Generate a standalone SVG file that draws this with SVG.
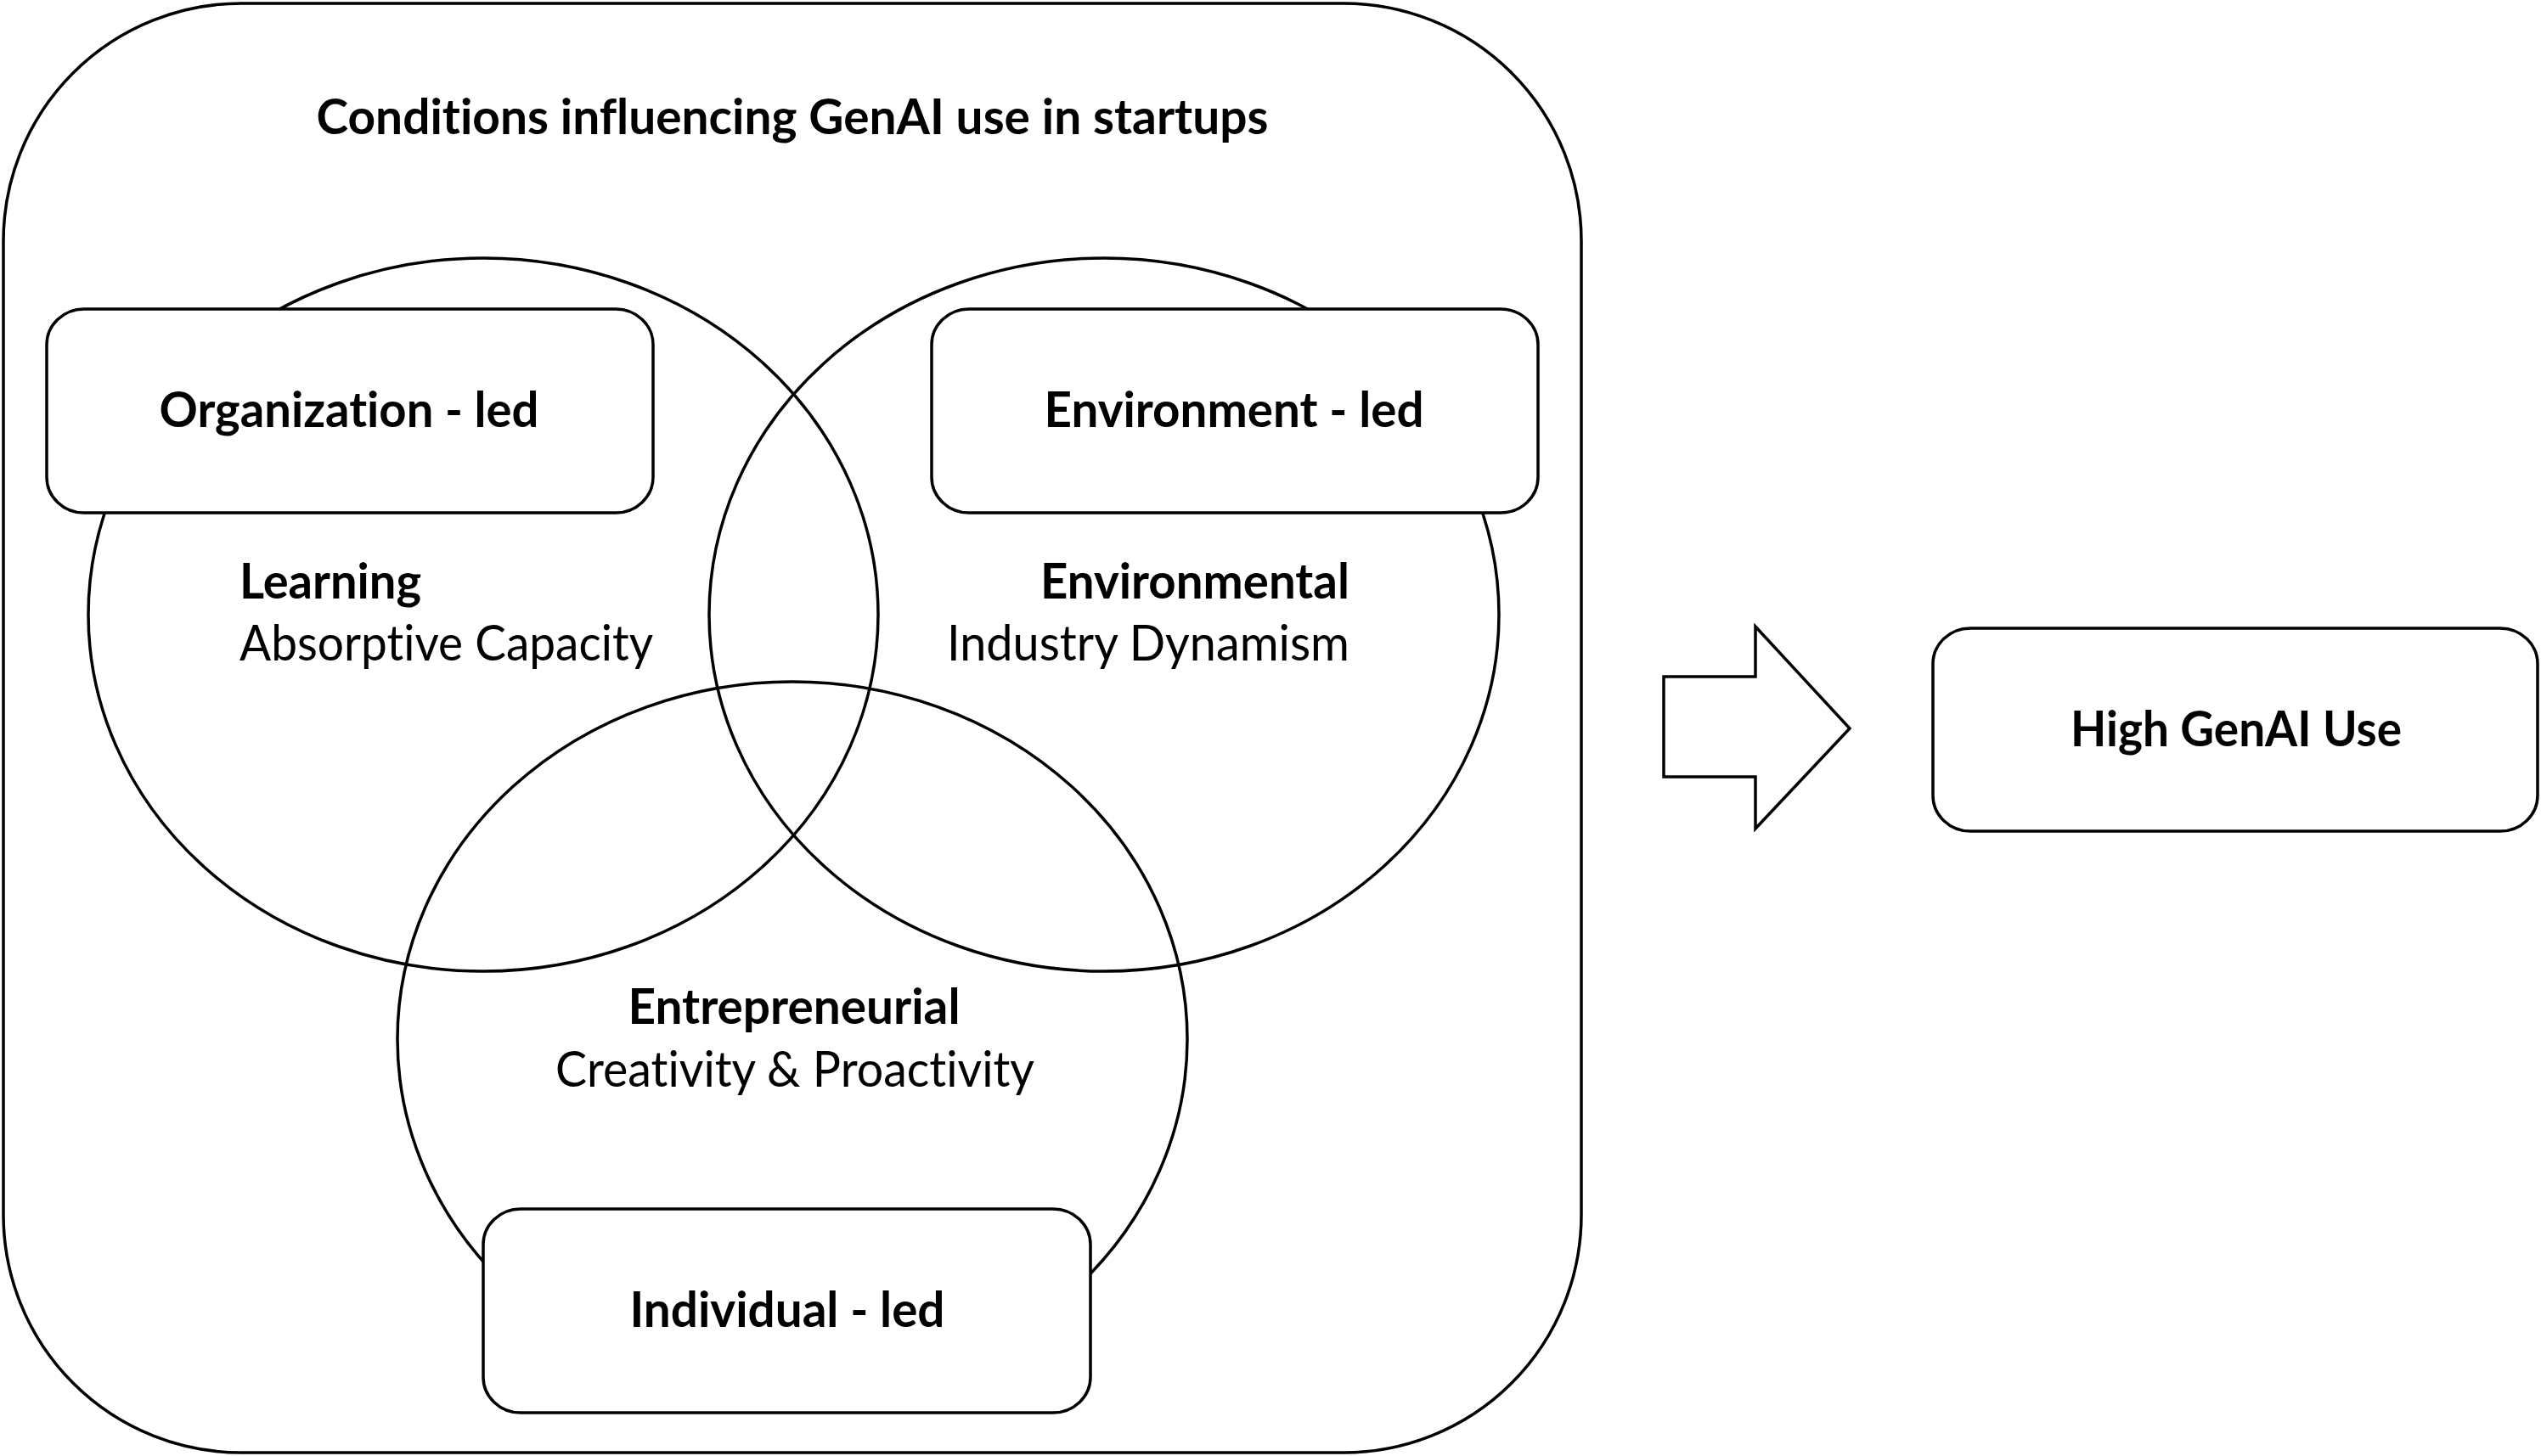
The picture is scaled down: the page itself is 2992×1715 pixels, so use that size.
<svg xmlns="http://www.w3.org/2000/svg" width="2992" height="1715" viewBox="0 0 2992 1715">
<style>
.ln{fill:none;stroke:#000;stroke-width:3.5}
.box{fill:#fff;stroke:#000;stroke-width:3.5}
.t{font-family:Lato,"Open Sans","Liberation Sans",sans-serif;font-size:58px;fill:#000;font-variant-ligatures:none;font-feature-settings:"liga" 0,"dlig" 0}
.b{font-weight:bold}
</style>
<rect x="0" y="0" width="2992" height="1715" fill="#fff"/>
<g id="frame">
<rect class="ln" x="4" y="4" width="1858" height="1707" rx="280" ry="280"/>
<text class="t b" x="933" y="158" text-anchor="middle" textLength="1121" lengthAdjust="spacingAndGlyphs">Conditions influencing GenAI use in startups</text>
</g>
<g id="learning">
<ellipse class="ln" cx="569" cy="724" rx="465" ry="420"/>
<text class="t b" x="282" y="705" textLength="214" lengthAdjust="spacingAndGlyphs">Learning</text>
<text class="t" x="282" y="778" textLength="487" lengthAdjust="spacingAndGlyphs">Absorptive Capacity</text>
</g>
<g id="environmental">
<ellipse class="ln" cx="1300" cy="724" rx="465" ry="420"/>
<text class="t b" x="1589" y="705" text-anchor="end" textLength="364" lengthAdjust="spacingAndGlyphs">Environmental</text>
<text class="t" x="1589" y="778" text-anchor="end" textLength="474" lengthAdjust="spacingAndGlyphs">Industry Dynamism</text>
</g>
<g id="entrepreneurial">
<ellipse class="ln" cx="933" cy="1224" rx="465" ry="421"/>
<text class="t b" x="935" y="1206" text-anchor="middle" textLength="391" lengthAdjust="spacingAndGlyphs">Entrepreneurial</text>
<text class="t" x="936" y="1280" text-anchor="middle" textLength="564" lengthAdjust="spacingAndGlyphs">Creativity &amp; Proactivity</text>
</g>
<g id="organization-led">
<rect class="box" x="55" y="364" width="714" height="240" rx="44" ry="42"/>
<text class="t b" x="411" y="503" text-anchor="middle" textLength="447" lengthAdjust="spacingAndGlyphs">Organization - led</text>
</g>
<g id="environment-led">
<rect class="box" x="1097" y="364" width="714" height="240" rx="44" ry="42"/>
<text class="t b" x="1453" y="503" text-anchor="middle" textLength="447" lengthAdjust="spacingAndGlyphs">Environment - led</text>
</g>
<g id="individual-led">
<rect class="box" x="569" y="1424" width="715" height="240" rx="44" ry="42"/>
<text class="t b" x="927" y="1563" text-anchor="middle" textLength="371" lengthAdjust="spacingAndGlyphs">Individual - led</text>
</g>
<g id="connectors">
<polygon class="ln" points="1959,797 2067,797 2067,738 2178,858 2067,976 2067,915 1959,915"/>
</g>
<g id="high-genai-use">
<rect class="box" x="2276" y="740" width="712" height="239" rx="44" ry="42"/>
<text class="t b" x="2633" y="879" text-anchor="middle" textLength="390" lengthAdjust="spacingAndGlyphs">High GenAI Use</text>
</g>
</svg>
